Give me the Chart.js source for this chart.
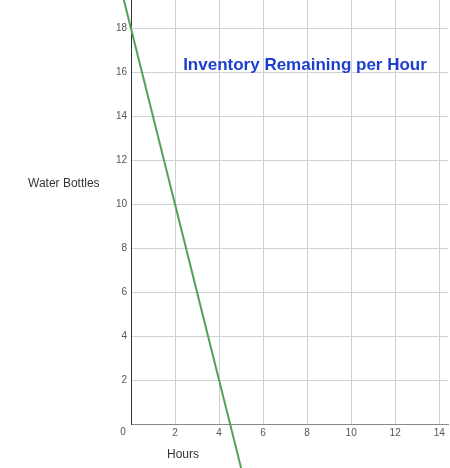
<!DOCTYPE html>
<html>
<head>
<meta charset="utf-8">
<script src="https://cdn.jsdelivr.net/npm/chart.js@4"></script>
<style>
  html, body { margin: 0; padding: 0; background: #fff; }
  #wrap { width: 450px; height: 468px; }
</style>
</head>
<body>
<div id="wrap"><canvas id="mycanvas"></canvas></div>
<script>
var hours = [-0.5, 0, 2, 4, 5.5]
var bottles = [20, 18, 10, 2, -4]
var chartTitle = 'Inventory Remaining per Hour'
var xTitle = 'Hours'
var yTitle = 'Water Bottles'

var points = hours.map(function(h, i){ return {x: h, y: bottles[i]} })

function evenTicks(scale){
    scale.ticks = scale.ticks.filter(function(t){ return t.value % 2 === 0 })
}

var labelsPlugin = {
    id: 'labels',
    afterDraw: function(chart){
        var ctx = chart.ctx
        ctx.save()
        ctx.textBaseline = 'middle'
        ctx.textAlign = 'center'
        ctx.fillStyle = '#1c3fcf'
        ctx.font = 'bold 17px "Liberation Sans", Arial, sans-serif'
        ctx.fillText(chartTitle, 305, 65)
        ctx.fillStyle = '#333'
        ctx.font = '12px "Liberation Sans", Arial, sans-serif'
        ctx.fillText(xTitle, 183, 455)
        ctx.textAlign = 'left'
        ctx.fillText(yTitle, 28, 184)
        // shared origin label
        ctx.fillStyle = '#555'
        ctx.font = '10px "Liberation Sans", Arial, sans-serif'
        ctx.textAlign = 'center'
        ctx.fillText('0', 123, 432)
        ctx.restore()
    }
}

var context = document.getElementById('mycanvas').getContext('2d')
new Chart(context, {
    type: 'scatter',
    data: {
        datasets: [{
            data: points,
            showLine: true,
            borderColor: '#54a055',
            borderWidth: 2,
            pointRadius: 0,
            clip: false
        }]
    },
    options: {
        responsive: true,
        maintainAspectRatio: false,
        animation: false,
        layout: { padding: { top: 0, right: 2, left: 0, bottom: 0 } },
        plugins: { legend: { display: false }, tooltip: { enabled: false } },
        scales: {
            x: {
                type: 'linear',
                min: 0,
                max: 14.4,
                afterBuildTicks: evenTicks,
                afterFit: function(scale){
                    scale.height = 44
                    scale.paddingLeft = 0
                    scale.paddingRight = 0
                },
                ticks: {
                    stepSize: 2, autoSkip: false, includeBounds: false, color: '#555', padding: 3, maxRotation: 0,
                    font: { size: 10, family: '"Liberation Sans", Arial' },
                    callback: function(v){ return v === 0 ? '' : v }
                },
                grid: { color: '#d0d0d0', drawTicks: false },
                border: { color: '#888', width: 1 }
            },
            y: {
                type: 'linear',
                min: 0,
                max: 19.3,
                afterBuildTicks: evenTicks,
                afterFit: function(scale){
                    scale.width = 131
                    scale.paddingTop = 0
                    scale.paddingBottom = 0
                },
                ticks: {
                    stepSize: 2, autoSkip: false, includeBounds: false, color: '#555', padding: 4,
                    font: { size: 10, family: '"Liberation Sans", Arial' },
                    callback: function(v){ return v === 0 ? '' : v }
                },
                grid: { color: '#d0d0d0', drawTicks: false },
                border: { color: '#333', width: 1 }
            }
        }
    },
    plugins: [labelsPlugin]
})
</script>
</body>
</html>
